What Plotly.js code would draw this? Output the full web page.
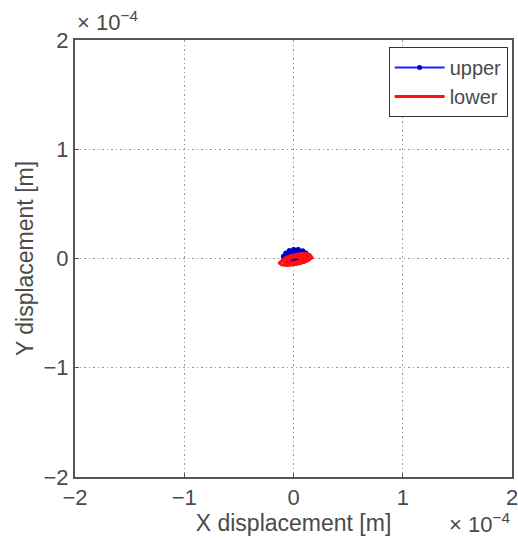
<!DOCTYPE html>
<html>
<head>
<meta charset="utf-8">
<script src="https://cdn.plot.ly/plotly-3.0.1.min.js"></script>
<style>html,body{margin:0;padding:0;background:#fff;}#chart{width:518px;height:540px;}</style>
</head>
<body>
<div id="chart"></div>
<script>
// Orbit samples, in micrometres (1e-6 m)
const UNIT = 1e-6;
const upperX = [12, 11, 8, 4, 0, -4, -7, -9, -9, -7, -3, 1, 5, 9, 12, 13,
  13.8, 11.5, 8.5, 4.5, 0.5, -3.5, -7, -9.2, -8.8, -6.5, -2.5, 1.5, 5.5, 9.5, 12.5, 13.8,
  8, 6, 2, -2, -5, -6, -4, 0, 4, 7, 8,
  5, 2, -1, -3, -1, 2, 5];
const upperY = [1, 4, 6.5, 8, 8.3, 7, 4.5, 1.5, -1.5, -3.5, -4.5, -4.6, -4, -2.5, -0.5, 1.5,
  2.5, 5, 7, 8.2, 8, 7.2, 5, 2, -1, -3.8, -4.4, -4.3, -3.6, -2.2, 0, 2.5,
  1, 4, 5.5, 5, 3, 0, -2.5, -3, -2.5, -1, 1,
  1, 3, 3, 1, -1, -1.5, 1];
const lowerX = [17, 15, 11, 6, 1, -4, -8, -11.5, -12.5, -10, -5, 0, 5, 10, 14, 17,
  16, 13, 8, 3, -2, -7, -10.5, -12.8, -11, -6, -1, 4, 9, 13, 16.5, 17.4,
  12, 9, 4, -1, -6, -9, -7, -2, 3, 8, 11, 12,
  7, 3, -2, -5, -3, 2, 6, 7];
const lowerY = [1, 3.5, 4.5, 4.3, 3.5, 2, 0, -2.5, -4.5, -6, -6.3, -5.8, -4.8, -3.3, -1.5, 0.5,
  1.5, 4, 4.6, 4, 2.8, 0.8, -1.8, -4, -5.8, -6.4, -6, -5.2, -3.8, -2.2, -0.2, 1,
  0.5, 2.5, 3, 2, 0, -2.5, -4.5, -5, -4.2, -3, -1.5, 0.5,
  0, 1.5, 0.5, -1.5, -3.5, -3.2, -2, 0];
const tickVals = [-2e-4, -1e-4, 0, 1e-4, 2e-4];
const tickText = ['\u22122', '\u22121', '0', '1', '2'];
const xTitle = 'X displacement [m]';
const yTitle = 'Y displacement [m]';
const seriesNames = ['upper', 'lower'];

const toM = a => a.map(v => v * UNIT);
const FAM = 'Liberation Sans, Arial, sans-serif';
const tickFont = {family: FAM, size: 22, color: '#4a4a4a'};
const titleFont = {family: FAM, size: 23, color: '#4a4a4a'};

const traces = [
  {x: toM(upperX), y: toM(upperY), name: seriesNames[0], type: 'scatter', mode: 'lines+markers',
   line: {color: '#2020ff', width: 2}, marker: {color: '#0000cc', size: 5}},
  {x: toM(lowerX), y: toM(lowerY), name: seriesNames[1], type: 'scatter', mode: 'lines',
   line: {color: '#ff1010', width: 3}}
];

const axisCommon = {
  tickvals: tickVals, ticktext: tickText, ticks: 'inside', ticklen: 4, tickcolor: '#555',
  showline: true, linecolor: '#555', linewidth: 2, mirror: true,
  showgrid: true, gridcolor: '#999', griddash: '1.5px,3px', gridwidth: 1,
  zeroline: false, tickfont: tickFont, ticklabeloverflow: 'allow'
};

const layout = {
  width: 518, height: 540,
  margin: {l: 75, r: 6, t: 40, b: 63},
  paper_bgcolor: '#fff', plot_bgcolor: '#fff',
  font: tickFont,
  showlegend: true,
  legend: {x: 0.99, xanchor: 'right', y: 0.984, yanchor: 'top', bgcolor: '#fff',
    bordercolor: '#333', borderwidth: 1, font: {family: FAM, size: 20, color: '#4a4a4a'},
    tracegroupgap: 0, itemwidth: 50},
  xaxis: Object.assign({}, axisCommon, {range: [-2e-4, 2e-4],
    title: {text: xTitle, font: titleFont, standoff: 4}}),
  yaxis: Object.assign({}, axisCommon, {range: [-2e-4, 2e-4],
    title: {text: yTitle, font: titleFont, standoff: 3}}),
  annotations: [
    {xref: 'paper', yref: 'paper', x: 0, y: 1, xanchor: 'left', yanchor: 'bottom', yshift: 3,
     showarrow: false, text: '\u00d7 10<sup>\u22124</sup>', font: tickFont},
    {xref: 'paper', yref: 'paper', x: 1, y: 0, xanchor: 'right', yanchor: 'top', yshift: -30,
     showarrow: false, text: '\u00d7 10<sup>\u22124</sup>', font: tickFont}
  ]
};

Plotly.newPlot('chart', traces, layout, {displayModeBar: false, staticPlot: true});
</script>
</body>
</html>
